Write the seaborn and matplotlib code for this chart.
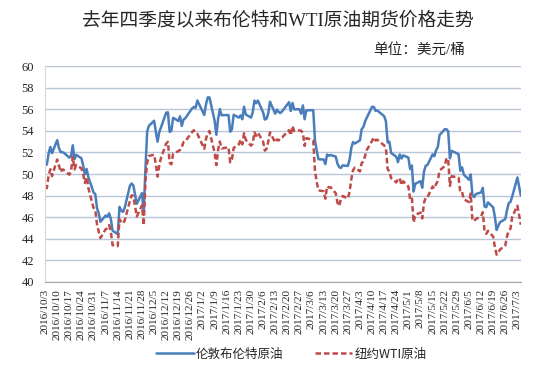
import matplotlib
matplotlib.use('Agg')
import pandas as pd
import seaborn as sns
import matplotlib.pyplot as plt

#Trading days, 2016/10/3 - 2017/7/5 (days without a settlement removed)
holidays = ['2016-11-24', '2016-12-26', '2017-01-02', '2017-01-16',
            '2017-02-20', '2017-04-14', '2017-05-29', '2017-07-04']
dates = pd.bdate_range('2016-10-03', '2017-07-05')
dates = dates[~dates.isin(pd.to_datetime(holidays))]

#Brent futures, USD/bbl (one row per month)
brent = [50.89, 50.87, 51.86, 52.51, 51.93, 53.14, 52.41, 52.03, 52.03, 51.95, 51.52, 51.68, 52.67, 51.38, 51.78, 51.46, 50.79, 49.98, 50.47, 49.71, 48.30,
         48.14, 46.86, 46.35, 45.58, 46.15, 46.04, 46.36, 45.84, 44.75, 44.43, 46.95, 46.63, 46.49, 46.86, 48.90, 49.12, 48.95, 47.24, 48.24, 46.38, 50.47,
         53.94, 54.46, 54.94, 53.93, 53.00, 53.89, 54.33, 55.69, 55.72, 53.90, 54.02, 55.21, 54.92, 55.35, 54.46, 55.05, 55.16, 56.09, 56.22, 56.14, 56.82,
         55.47, 56.46, 57.10, 57.10, 54.94, 53.64, 55.10, 56.01, 55.45, 55.47, 53.92, 54.16, 55.49, 55.23, 55.44, 55.08, 56.24, 55.52, 55.23, 55.70,
         56.80, 56.56, 56.81, 55.72, 55.05, 55.12, 55.63, 56.70, 55.59, 55.97, 55.75, 55.65, 55.81, 56.66, 55.84, 56.58, 55.99, 56.01, 55.59,
         56.36, 55.08, 55.90, 55.92, 55.92, 53.11, 52.19, 51.37, 51.35, 50.92, 51.81, 51.70, 51.76, 51.62, 50.96, 50.64, 50.56, 50.80, 50.75, 51.33, 52.42, 52.96, 52.83,
         53.12, 54.17, 54.36, 54.89, 55.24, 56.23, 56.23, 55.86, 55.89, 55.36, 54.89, 52.93, 52.99, 51.96, 51.60, 51.10, 51.82, 51.44, 51.73,
         51.52, 50.46, 50.79, 48.38, 49.10, 49.34, 48.73, 50.22, 50.77, 50.84, 51.82, 51.65, 52.21, 52.51, 53.61, 54.15, 54.15, 53.96, 51.46, 52.15, 51.84, 50.31,
         50.63, 49.95, 49.47, 49.96, 48.06, 47.86, 48.15, 48.29, 48.72, 47.00, 46.92, 47.37, 46.91, 46.02, 44.82, 45.22, 45.54, 45.83, 46.65, 47.31, 47.42, 47.92,
         49.68, 48.00]

#WTI futures, USD/bbl
wti = [48.81, 48.69, 49.83, 50.44, 49.81, 51.35, 50.79, 50.18, 50.44, 50.35, 49.94, 50.29, 51.60, 50.43, 50.85, 50.52, 49.96, 49.18, 49.72, 48.70, 46.86,
       46.67, 45.34, 44.66, 44.07, 44.89, 44.98, 45.27, 44.66, 43.41, 43.32, 45.81, 45.57, 45.42, 45.69, 47.49, 48.03, 47.96, 46.06, 47.08, 45.23, 49.44,
       51.06, 51.68, 51.79, 50.93, 49.77, 50.84, 51.50, 52.83, 52.98, 51.04, 50.90, 51.90, 52.12, 52.23, 52.49, 52.95, 53.02, 53.90, 54.06, 53.77, 53.72,
       52.33, 53.26, 53.76, 53.99, 51.96, 50.82, 52.25, 53.01, 52.37, 52.48, 51.08, 51.37, 52.42, 52.75, 53.18, 52.75, 53.78, 53.17, 52.63, 52.81,
       53.88, 53.54, 53.83, 53.01, 52.17, 52.34, 53.00, 53.86, 52.93, 53.20, 53.11, 53.36, 53.40, 54.06, 53.59, 54.45, 53.99, 54.05, 54.01,
       53.83, 52.61, 53.33, 53.20, 53.14, 50.28, 49.28, 48.49, 48.40, 47.72, 48.86, 48.75, 48.78, 48.22, 47.34, 47.04, 47.70, 47.97, 47.73, 48.37, 49.51, 50.35, 50.60,
       50.24, 51.03, 51.15, 51.70, 52.24, 53.08, 53.40, 53.11, 53.18, 52.65, 52.41, 50.44, 50.27, 49.62, 49.23, 49.56, 49.62, 48.97, 49.33,
       48.84, 47.66, 47.82, 45.52, 46.22, 46.43, 45.88, 47.33, 47.83, 47.84, 48.85, 48.66, 49.07, 49.35, 50.33, 50.73, 51.47, 51.36, 48.90, 49.80, 49.66, 48.32,
       48.36, 47.66, 47.40, 48.19, 45.72, 45.64, 45.83, 46.08, 46.46, 44.73, 44.46, 44.74, 44.20, 43.23, 42.53, 42.74, 43.01, 43.38, 44.24, 44.74, 44.93, 46.04,
       47.07, 45.30]

series_names = ['伦敦布伦特原油', '纽约WTI原油']
tick_dates = pd.date_range('2016-10-03', '2017-07-03', freq='7D')
tick_labels = [f'{d.year}/{d.month}/{d.day}' for d in tick_dates]

#Long format for seaborn
df = pd.DataFrame({'date': dates, series_names[0]: brent, series_names[1]: wti})
long_df = df.melt(id_vars='date', var_name='品种', value_name='价格')

sns.set_style('white')
#Serif for digits/latin, CJK font as fallback for Chinese characters
plt.rcParams['font.family'] = ['Liberation Serif', 'Noto Sans CJK SC', 'DejaVu Sans']

fig = plt.figure(figsize=(5.5, 3.8), dpi=100)
ax = fig.add_axes([0.082, 0.258, 0.865, 0.568])

sns.lineplot(data=long_df, x='date', y='价格', hue='品种', style='品种',
             palette={series_names[0]: '#4A7EBB', series_names[1]: '#BE4B48'},
             dashes={series_names[0]: '', series_names[1]: (2.2, 1.2)},
             linewidth=1.8, ax=ax, legend=True)

#Axes styling
ax.set_ylim(40, 60)
ax.set_yticks(range(40, 61, 2))
ax.set_xlim(pd.Timestamp('2016-10-03'), pd.Timestamp('2017-07-05'))
ax.set_xticks(tick_dates)
ax.set_xticklabels(tick_labels, rotation=90, fontsize=8)
ax.tick_params(axis='y', labelsize=9)
ax.yaxis.grid(True, color='#B9C6DA', linewidth=1)
ax.set_axisbelow(True)
ax.set_xlabel('')
ax.set_ylabel('')
for side in ['top', 'right']:
    ax.spines[side].set_visible(False)
ax.spines['left'].set_color('#D9D9D9')
ax.spines['bottom'].set_color('#A6A6A6')
ax.tick_params(axis='x', direction='out', length=3, color='#A6A6A6', pad=2)
ax.tick_params(axis='y', length=0, pad=8)

#Legend at bottom
handles, labels = ax.get_legend_handles_labels()
ax.get_legend().remove()
fig.legend(handles, labels, loc='center', bbox_to_anchor=(0.53, 0.068), ncol=2,
           frameon=False, handlelength=3, columnspacing=2.5, handletextpad=0.2,
           prop={'family': ['Noto Sans CJK SC', 'DejaVu Sans'], 'size': 9})

#Titles
fig.text(0.505, 0.945, '去年四季度以来布伦特和WTI原油期货价格走势', ha='center', va='center', fontsize=13.5)
fig.text(0.845, 0.868, '单位：美元/桶', ha='right', va='center', fontsize=10.5)

fig.savefig('out.png', dpi=100)
